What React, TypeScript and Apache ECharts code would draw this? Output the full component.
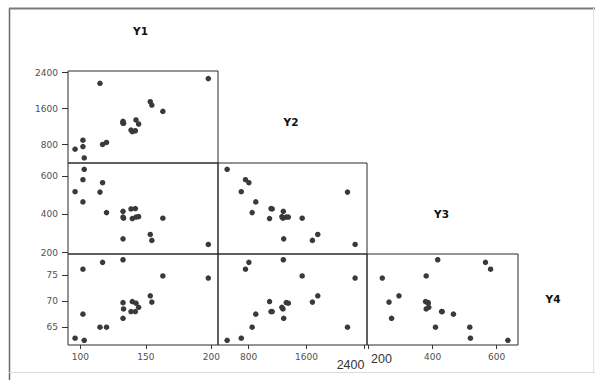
import React, { useEffect, useRef } from 'react';
import * as echarts from 'echarts';

// One observation per index
const Y1 = [96, 103, 102, 102, 115, 117, 120, 132.6, 132.6, 132.6, 133, 142, 138.7, 139.7, 142.5, 144.5, 163, 153.4, 154.6, 197.7];
const Y2 = [700, 505, 758, 900, 2165, 805, 850, 1280, 1320, 1285, 1275, 1110, 1126, 1090, 1349, 1260, 1540, 1755, 1681, 2270];
const Y3 = [518, 635, 581, 465, 516, 565, 409, 416, 386, 272, 380, 430, 428, 378, 386, 388, 380, 295, 264, 243];
const Y4 = [62.9, 62.5, 76.1, 67.5, 65.0, 77.4, 65.0, 77.9, 69.7, 66.7, 68.5, 68.0, 68.0, 69.9, 69.6, 68.8, 74.8, 71.0, 69.8, 74.4];

const VAR_NAMES = ['Y1', 'Y2', 'Y3', 'Y4'];
const TICKS_Y1 = [100, 150, 200];
const TICKS_Y2 = [800, 1600, 2400];
const TICKS_Y3 = [200, 400, 600];
const TICKS_Y4 = [65, 70, 75];

const VARS = [Y1, Y2, Y3, Y4];
const TICKS = [TICKS_Y1, TICKS_Y2, TICKS_Y3, TICKS_Y4];
const X_RANGE: [number, number][] = [[90.6, 205.1], [379, 2434], [195.3, 666.5], [0, 1]];
const Y_RANGE: [number, number][] = [[0, 1], [393, 2438], [193, 668], [61.6, 79.0]];

const COL_LEFT = [68, 218, 367];
const COL_W = [150, 149, 151];
const ROW_TOP = [71, 163, 254];
const ROW_H = [92, 91, 91];

const PANELS = [
  { x: 0, y: 1, col: 0, row: 0 },
  { x: 0, y: 2, col: 0, row: 1 },
  { x: 0, y: 3, col: 0, row: 2 },
  { x: 1, y: 2, col: 1, row: 1 },
  { x: 1, y: 3, col: 1, row: 2 },
  { x: 2, y: 3, col: 2, row: 2 },
];

const LABEL_POS = [
  [140.5, 31],
  [291, 122],
  [441.5, 214],
  [553, 299],
];

const tickFont = { fontFamily: 'DejaVu Sans', fontSize: 9, color: '#505050' };

export default function App() {
  const ref = useRef<HTMLDivElement>(null);
  useEffect(() => {
    if (!ref.current) return;
    const chart = echarts.init(ref.current, null, { renderer: 'svg' });
    const grids = PANELS.map((p) => ({
      left: COL_LEFT[p.col],
      top: ROW_TOP[p.row],
      width: COL_W[p.col],
      height: ROW_H[p.row],
      show: true,
      borderColor: '#2a2a2a',
      borderWidth: 1,
      backgroundColor: 'transparent',
      containLabel: false,
    }));
    const xAxes = PANELS.map((p, i) => {
      const showIt = p.row === 2;
      return {
        type: 'value',
        gridIndex: i,
        min: X_RANGE[p.x][0],
        max: X_RANGE[p.x][1],
        axisLine: { show: false },
        splitLine: { show: false },
        axisTick: {
          show: showIt,
          customValues: TICKS[p.x],
          length: 4,
          lineStyle: { color: '#333', width: 1 },
        },
        axisLabel: {
          show: showIt,
          customValues: TICKS[p.x],
          margin: 7,
          ...tickFont,
          formatter: (v: number) => {
            if (p.x === 1 && v === 2400) return '{big|2400}';
            if (p.x === 2 && v === 200) return '{big2|200}';
            return String(v);
          },
          rich: {
            big: { fontFamily: 'Liberation Sans', fontSize: 12.5, color: '#333', padding: [6, 28, 0, 0] },
            big2: { fontFamily: 'Liberation Sans', fontSize: 12.5, color: '#333', padding: [0, 0, 0, 26] },
          },
        },
      };
    });
    const yAxes = PANELS.map((p, i) => {
      const showIt = p.col === 0;
      return {
        type: 'value',
        gridIndex: i,
        min: Y_RANGE[p.y][0],
        max: Y_RANGE[p.y][1],
        axisLine: { show: false },
        splitLine: { show: false },
        axisTick: {
          show: showIt,
          customValues: TICKS[p.y],
          length: 6,
          lineStyle: { color: '#333', width: 1 },
        },
        axisLabel: {
          show: showIt,
          customValues: TICKS[p.y],
          margin: 10,
          ...tickFont,
          formatter: (v: number) => String(v),
        },
      };
    });
    const series = PANELS.map((p, i) => ({
      type: 'scatter',
      xAxisIndex: i,
      yAxisIndex: i,
      symbol: 'circle',
      symbolSize: 5.5,
      itemStyle: { color: '#3a3a3a', opacity: 1 },
      data: VARS[p.x].map((v, k) => [v, VARS[p.y][k]]),
    }));
    const graphic: any[] = [
      { type: 'line', shape: { x1: 9.5, y1: 8, x2: 9.5, y2: 380 }, style: { stroke: '#6a6a6a', lineWidth: 1.5 } },
      { type: 'line', shape: { x1: 9, y1: 8.5, x2: 595, y2: 8.5 }, style: { stroke: '#7a7a7a', lineWidth: 2 } },
      { type: 'line', shape: { x1: 9, y1: 372.5, x2: 595, y2: 372.5 }, style: { stroke: '#dcdcdc', lineWidth: 1 } },
      { type: 'line', shape: { x1: 593.5, y1: 8, x2: 593.5, y2: 372 }, style: { stroke: '#e2e2e2', lineWidth: 1 } },
    ];
    VAR_NAMES.forEach((name, i) => {
      graphic.push({
        type: 'text',
        x: LABEL_POS[i][0],
        y: LABEL_POS[i][1],
        style: {
          text: name,
          fontFamily: 'DejaVu Sans',
          fontWeight: 'bold',
          fontSize: 10.5,
          fill: '#111',
          textAlign: 'center',
          textVerticalAlign: 'middle',
        },
      });
    });
    chart.setOption({
      animation: false,
      backgroundColor: '#ffffff',
      grid: grids,
      xAxis: xAxes,
      yAxis: yAxes,
      series,
      graphic,
    });
    return () => chart.dispose();
  }, []);
  return (
    <div
      ref={ref}
      style={{ position: 'fixed', left: 0, top: 0, width: 595, height: 380 }}
    />
  );
}
